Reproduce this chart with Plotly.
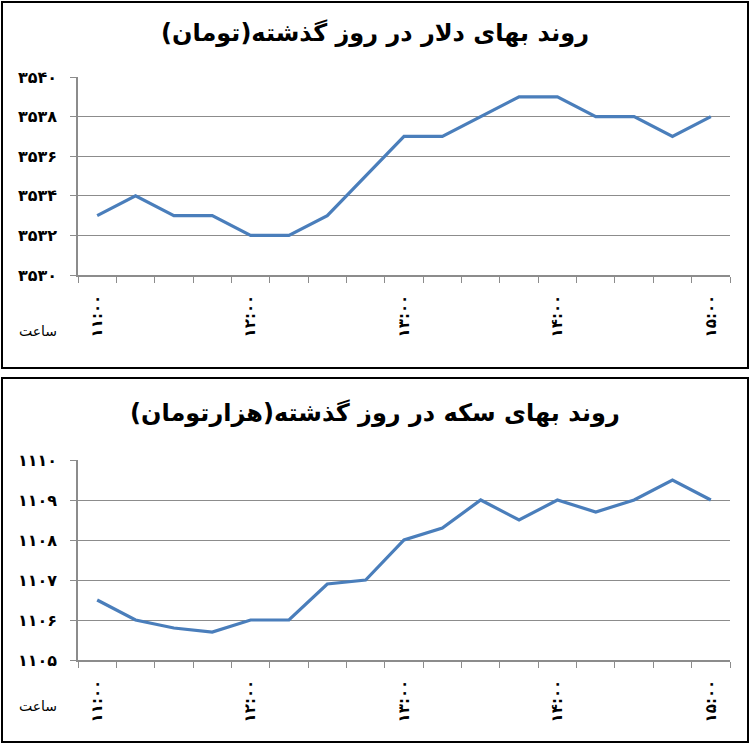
import plotly.graph_objects as go

# ---- data ----
time_labels = ["۱۱:۰۰", "۱۲:۰۰", "۱۳:۰۰", "۱۴:۰۰", "۱۵:۰۰"]
label_positions = [0, 4, 8, 12, 16]
categories = list(range(17))

dollar_values = [3533, 3534, 3533, 3533, 3532, 3532, 3533, 3535, 3537, 3537,
                 3538, 3539, 3539, 3538, 3538, 3537, 3538]
dollar_ticks = [3530, 3532, 3534, 3536, 3538, 3540]
dollar_ticktext = ["۳۵۳۰", "۳۵۳۲", "۳۵۳۴", "۳۵۳۶", "۳۵۳۸", "۳۵۴۰"]

coin_values = [1106.5, 1106.0, 1105.8, 1105.7, 1106.0, 1106.0, 1106.9, 1107.0, 1108.0,
               1108.3, 1109.0, 1108.5, 1109.0, 1108.7, 1109.0, 1109.5, 1109.0]
coin_ticks = [1105, 1106, 1107, 1108, 1109, 1110]
coin_ticktext = ["۱۱۰۵", "۱۱۰۶", "۱۱۰۷", "۱۱۰۸", "۱۱۰۹", "۱۱۱۰"]

title_dollar = "روند بهای دلار در روز گذشته(تومان)"
title_coin = "روند بهای سکه در روز گذشته(هزارتومان)"
axis_label = "ساعت"

W, H = 750, 745
LINE = "#4A7EBB"
GRID = "#8C8C8C"
FONT = "DejaVu Sans"

fig = go.Figure()
fig.add_trace(go.Scatter(x=categories, y=dollar_values, mode="lines",
                         line=dict(color=LINE, width=3.2), xaxis="x", yaxis="y",
                         showlegend=False, hoverinfo="skip"))
fig.add_trace(go.Scatter(x=categories, y=coin_values, mode="lines",
                         line=dict(color=LINE, width=3.2), xaxis="x2", yaxis="y2",
                         showlegend=False, hoverinfo="skip"))

def py(v):
    return 1 - v / H

def bold(lst):
    return ["<b>" + s + "</b>" for s in lst]

xdom = [78 / W, 730 / W]
xaxis_common = dict(
    domain=xdom, range=[-0.5, 16.5], tickmode="array", tickvals=label_positions,
    ticktext=bold(time_labels), tickangle=-90, ticks="", showgrid=False, zeroline=False,
    showline=True, linecolor=GRID, linewidth=1.5, automargin=False,
    ticklabelstandoff=12,
    tickfont=dict(family=FONT, size=15, color="black"),
    minor=dict(tickmode="linear", tick0=-0.5, dtick=1, ticks="outside", ticklen=6,
               tickcolor=GRID, tickwidth=1, showgrid=False),
)
yaxis_common = dict(
    showgrid=True, gridcolor=GRID, gridwidth=1, zeroline=False, showline=True,
    linecolor=GRID, linewidth=1.5, ticks="outside", ticklen=6, tickcolor=GRID,
    automargin=False,
    tickfont=dict(family=FONT, size=16, color="black"), ticklabelstandoff=10,
)

fig.update_layout(
    width=W, height=H, margin=dict(l=0, r=0, t=0, b=0, pad=0), autosize=False,
    paper_bgcolor="white", plot_bgcolor="white",
    xaxis=dict(anchor="y", **xaxis_common),
    yaxis=dict(domain=[py(275), py(77)], range=[3530, 3540], tickvals=dollar_ticks,
               ticktext=bold(dollar_ticktext), anchor="x", **yaxis_common),
    xaxis2=dict(anchor="y2", **xaxis_common),
    yaxis2=dict(domain=[py(660), py(460)], range=[1105, 1110], tickvals=coin_ticks,
                ticktext=bold(coin_ticktext), anchor="x2", **yaxis_common),
    shapes=[
        dict(type="rect", xref="paper", yref="paper", x0=2 / W, x1=748 / W,
             y0=py(368), y1=py(2), line=dict(color="black", width=2)),
        dict(type="rect", xref="paper", yref="paper", x0=2 / W, x1=748 / W,
             y0=py(742), y1=py(378), line=dict(color="black", width=2)),
    ],
    annotations=[
        dict(text="<b>" + title_dollar + "</b>", xref="paper", yref="paper",
             x=0.5, y=py(33), showarrow=False, xanchor="center", yanchor="middle",
             font=dict(family=FONT, size=24, color="black")),
        dict(text="<b>" + title_coin + "</b>", xref="paper", yref="paper",
             x=0.5, y=py(413), showarrow=False, xanchor="center", yanchor="middle",
             font=dict(family=FONT, size=24, color="black")),
        dict(text=axis_label, xref="paper", yref="paper", x=38 / W, y=py(331),
             showarrow=False, xanchor="center", yanchor="middle",
             font=dict(family=FONT, size=14, color="black")),
        dict(text=axis_label, xref="paper", yref="paper", x=38 / W, y=py(706),
             showarrow=False, xanchor="center", yanchor="middle",
             font=dict(family=FONT, size=14, color="black")),
    ],
)

fig.write_html(
    "out.html",
    config={"displayModeBar": False},
    post_script="document.body.style.margin='0';document.body.style.overflow='hidden';",
)
